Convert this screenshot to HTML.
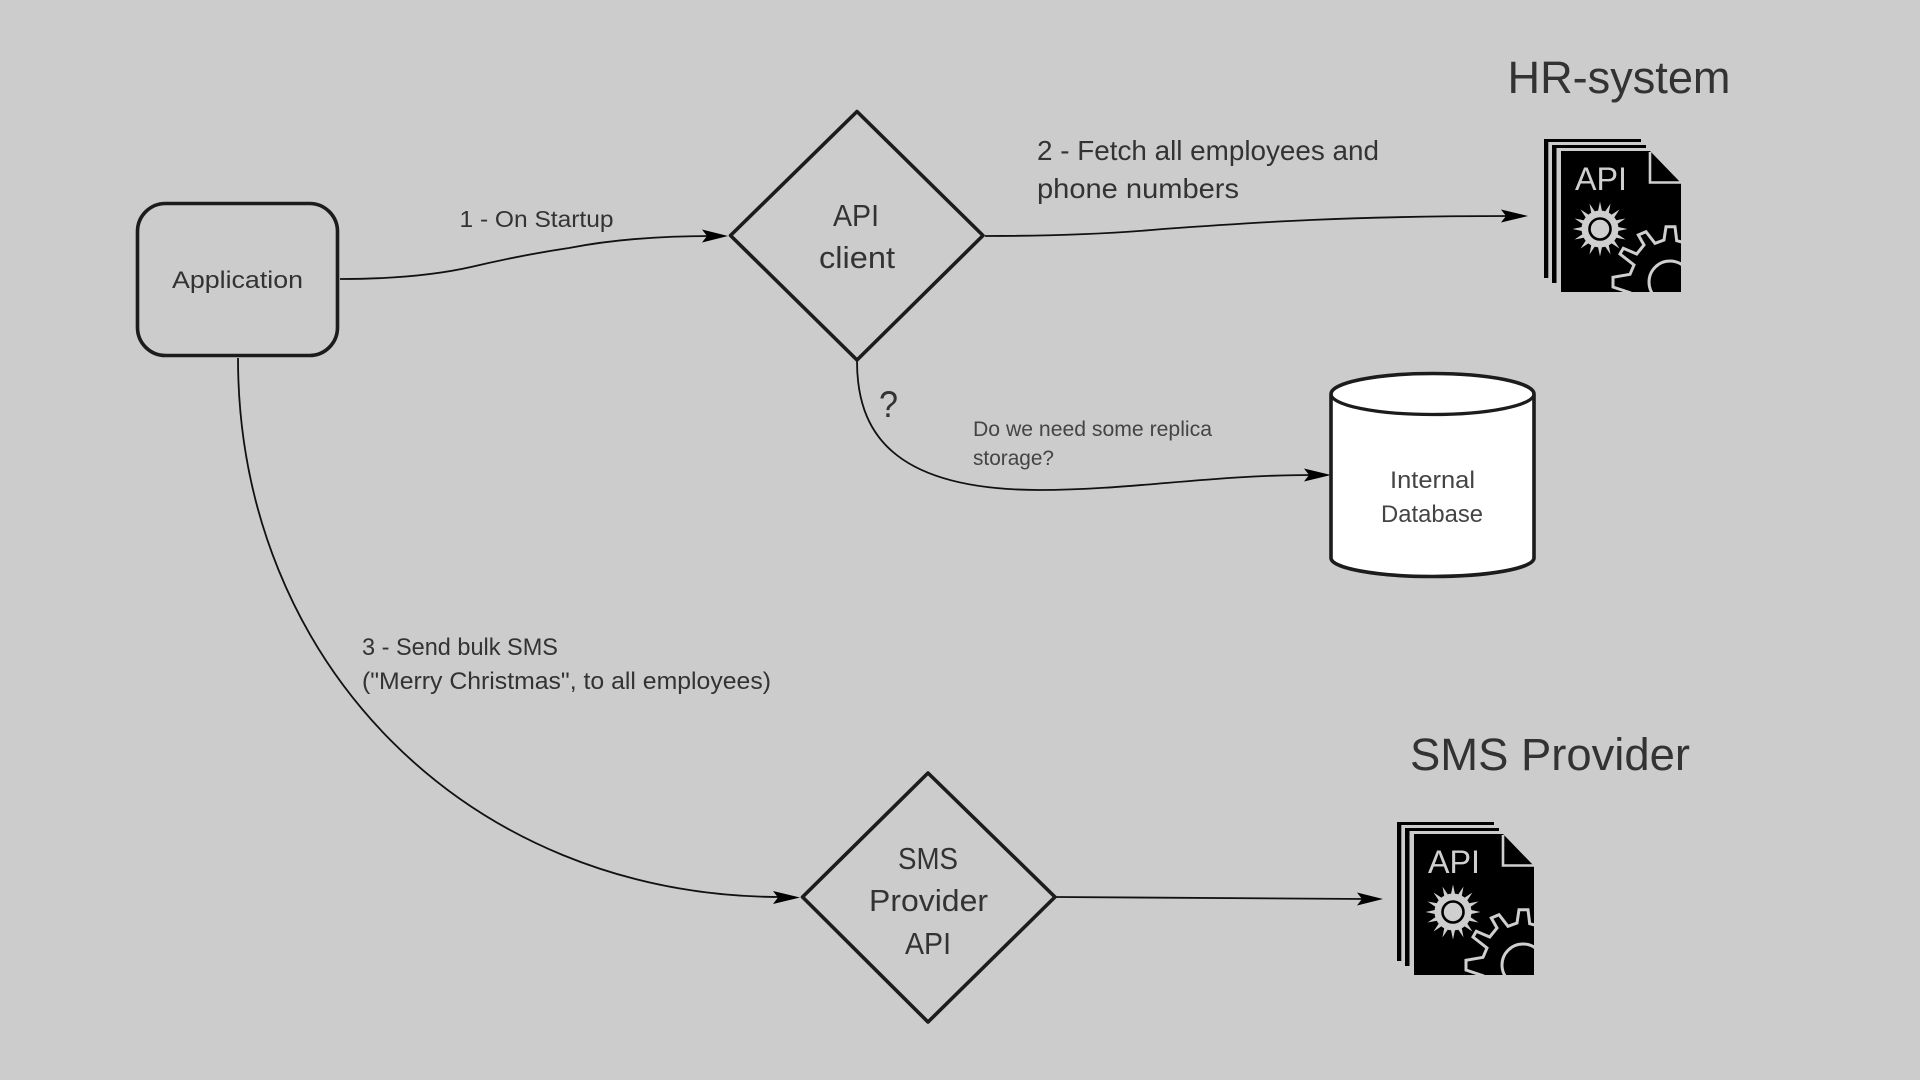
<!DOCTYPE html>
<html><head><meta charset="utf-8"><title>Diagram</title>
<style>
html,body{margin:0;padding:0;background:#ccc;width:1920px;height:1080px;overflow:hidden}
svg{display:block}
text{font-family:"Liberation Sans",sans-serif;fill:#333}
.c{fill:none;stroke:#111;stroke-width:1.8}
.s{fill:none;stroke:#1c1c1c;stroke-width:3.6;stroke-linejoin:round}
.a{fill:#000}
</style></head><body>
<svg width="1920" height="1080" viewBox="0 0 1920 1080" xmlns="http://www.w3.org/2000/svg">
<defs>
<clipPath id="cp"><rect x="1561" y="151" width="120" height="141"/></clipPath>
<g id="ray"><path d="M-2.2 -17L0 -27.5L2.2 -17Z" fill="#cfcfcf"/></g>
<g id="icon">
<path d="M1544 139H1641V142H1548.3V278H1544Z" fill="#000"/>
<path d="M1552 145H1646V148H1556.5V283H1552Z" fill="#000"/>
<path d="M1561 151H1650L1681 183V292H1561Z" fill="#000"/>
<path d="M1650 152V182.5H1681" fill="none" stroke="#cfcfcf" stroke-width="2.6"/>
<g transform="translate(1600 229)">
<circle r="18.5" fill="#cfcfcf"/>
<use href="#ray"/>
<use href="#ray" transform="rotate(22.5)"/>
<use href="#ray" transform="rotate(45)"/>
<use href="#ray" transform="rotate(67.5)"/>
<use href="#ray" transform="rotate(90)"/>
<use href="#ray" transform="rotate(112.5)"/>
<use href="#ray" transform="rotate(135)"/>
<use href="#ray" transform="rotate(157.5)"/>
<use href="#ray" transform="rotate(180)"/>
<use href="#ray" transform="rotate(202.5)"/>
<use href="#ray" transform="rotate(225)"/>
<use href="#ray" transform="rotate(247.5)"/>
<use href="#ray" transform="rotate(270)"/>
<use href="#ray" transform="rotate(292.5)"/>
<use href="#ray" transform="rotate(315)"/>
<use href="#ray" transform="rotate(337.5)"/>
<circle r="10.5" fill="#cfcfcf" stroke="#000" stroke-width="2.6"/>
</g>
<g clip-path="url(#cp)" fill="none" stroke="#cfcfcf" stroke-width="3">
<path d="M1631 293L1613 287V277.3L1630 274.3L1634 265L1620 254L1623.3 248.3L1636.7 254L1644 245L1638.3 235L1646 231.7L1655 243.3L1664 240L1666 226.7L1675 226.7L1676.7 240.7L1683 242.3"/>
<circle cx="1670" cy="282" r="21"/>
</g>
</g>
</defs>
<rect width="1920" height="1080" fill="#cccccc"/>

<!-- connectors -->
<path class="c" d="M340 279C400 279 440 274 471 267C505 259 535 253 569 248C610 240 660 236 712 236"/>
<path class="a" d="M728 236L702 229.5L707 236L702 242.5Z"/>
<path class="c" d="M985 236C1060 236 1120 233 1163 229C1260 222 1350 216 1512 216"/>
<path class="a" d="M1528 216L1501 209.5L1506 216L1501 222.5Z"/>
<path class="c" d="M857 361C857 430 890 490 1040 490C1130 490 1210 475 1312 475"/>
<path class="a" d="M1331 475L1304 468.5L1309 475L1304 481.5Z"/>
<path class="c" d="M238 358C238 660 465 897 782 897"/>
<path class="a" d="M800 897.5L773 891L778 897.5L773 904Z"/>
<path class="c" d="M1056 897L1366 899"/>
<path class="a" d="M1383 899L1357 892.5L1362 899L1357 905.5Z"/>

<!-- shapes -->
<rect class="s" x="137.5" y="203.5" width="200" height="152" rx="28" ry="28"/>
<path class="s" d="M857 111.5L983 235.5L857 360L730.5 235.5Z"/>
<path class="s" d="M928 773L1055 897L928 1022L802.5 897Z"/>
<path d="M1331 394A101.5 20.5 0 0 1 1534 394V558A101.5 18.5 0 0 1 1331 558Z" fill="#fff" stroke="#1c1c1c" stroke-width="3.6"/>
<path d="M1331 394A101.5 20.5 0 0 0 1534 394" fill="none" stroke="#1c1c1c" stroke-width="3.2"/>

<!-- icons -->
<use href="#icon"/>
<use href="#icon" transform="translate(-147 683)"/>
<text x="1575" y="190" font-size="32" textLength="52" lengthAdjust="spacingAndGlyphs" style="fill:#cfcfcf">API</text>
<text x="1428" y="873" font-size="32" textLength="52" lengthAdjust="spacingAndGlyphs" style="fill:#cfcfcf">API</text>

<!-- labels -->
<text x="1507.5" y="93" font-size="45" textLength="223" lengthAdjust="spacingAndGlyphs">HR-system</text>
<text x="1410" y="770" font-size="45" textLength="280" lengthAdjust="spacingAndGlyphs">SMS Provider</text>
<text x="172" y="288" font-size="24.5" textLength="131" lengthAdjust="spacingAndGlyphs">Application</text>
<text x="459.5" y="227" font-size="23.5" textLength="154" lengthAdjust="spacingAndGlyphs">1 - On Startup</text>
<text x="833" y="226" font-size="31" textLength="46" lengthAdjust="spacingAndGlyphs">API</text>
<text x="819" y="268" font-size="31" textLength="76" lengthAdjust="spacingAndGlyphs">client</text>
<text x="898" y="869" font-size="31" textLength="60" lengthAdjust="spacingAndGlyphs">SMS</text>
<text x="869" y="911" font-size="31" textLength="119" lengthAdjust="spacingAndGlyphs">Provider</text>
<text x="905" y="954" font-size="31" textLength="46" lengthAdjust="spacingAndGlyphs">API</text>
<text x="1390" y="488" font-size="24.5" textLength="85" lengthAdjust="spacingAndGlyphs" style="fill:#444">Internal</text>
<text x="1381" y="522" font-size="24.5" textLength="102" lengthAdjust="spacingAndGlyphs" style="fill:#444">Database</text>
<text x="1037" y="160" font-size="28" textLength="342" lengthAdjust="spacingAndGlyphs">2 - Fetch all employees and</text>
<text x="1037" y="198" font-size="28" textLength="202" lengthAdjust="spacingAndGlyphs">phone numbers</text>
<text x="879" y="417" font-size="37" textLength="19" lengthAdjust="spacingAndGlyphs">?</text>
<text x="973" y="436" font-size="21" textLength="239" lengthAdjust="spacingAndGlyphs" style="fill:#444">Do we need some replica</text>
<text x="973" y="465" font-size="21" textLength="81" lengthAdjust="spacingAndGlyphs" style="fill:#444">storage?</text>
<text x="362" y="655" font-size="24.5" textLength="196" lengthAdjust="spacingAndGlyphs">3 - Send bulk SMS</text>
<text x="362" y="689" font-size="24.5" textLength="409" lengthAdjust="spacingAndGlyphs">("Merry Christmas", to all employees)</text>
</svg>
</body></html>
